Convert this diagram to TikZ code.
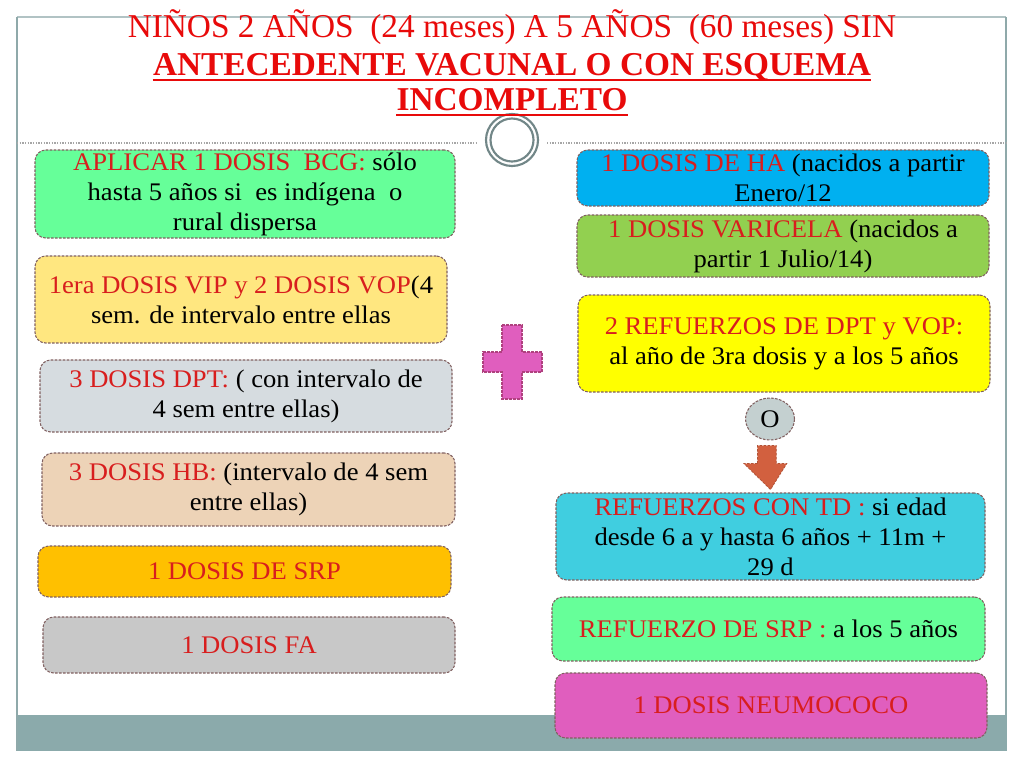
\documentclass[tikz,border=0pt]{standalone}
\usepackage{fontspec}
\setmainfont{Liberation Serif}[FakeStretch=1.05]
\newfontfamily\titlefont{Liberation Serif}
\usetikzlibrary{calc,shapes.geometric}
\definecolor{rd}{HTML}{D81E1E}
\definecolor{trd}{HTML}{E80A0A}
\definecolor{bd}{HTML}{806060}
\definecolor{frm}{HTML}{8FA9AA}
\definecolor{teal}{HTML}{8BAAAB}
\definecolor{cgreen}{HTML}{66FF99}
\definecolor{cyel}{HTML}{FFE780}
\definecolor{cgrayb}{HTML}{D6DCE0}
\definecolor{cpeach}{HTML}{EDD3B7}
\definecolor{corange}{HTML}{FFC000}
\definecolor{cgray}{HTML}{C8C8C8}
\definecolor{cblue}{HTML}{00B0F0}
\definecolor{clime}{HTML}{92D050}
\definecolor{cyellow}{HTML}{FFFF00}
\definecolor{cO}{HTML}{C4D0D0}
\definecolor{carrow}{HTML}{D2603F}
\definecolor{ccyan}{HTML}{40CEE0}
\definecolor{cpink}{HTML}{E05EBE}
\definecolor{pinkbd}{HTML}{B0407F}
\newcommand{\bodyfont}{\fontsize{19pt}{22.5pt}\selectfont}
\newcommand{\rt}[1]{\textcolor{rd}{#1}}
\tikzset{
  vbox/.style 2 args={draw=bd, dash pattern=on 2pt off 1pt, line width=0.8pt,
    rounded corners=8pt, align=center, inner sep=0pt, font=\bodyfont,
    text=black, minimum width={#1*0.75pt}, minimum height={#2*0.75pt}},
  ttl/.style={inner sep=0pt, anchor=base, text=trd, font=\titlefont\fontsize{25pt}{30pt}\selectfont},
  ttlb/.style={ttl, font=\titlefont\bfseries\fontsize{25pt}{30pt}\selectfont},
}
\begin{document}
\begin{tikzpicture}[x=0.75pt,y=-0.75pt]
\useasboundingbox (0,0) rectangle (1024,768);
% frame
\fill[teal] (17,715) rectangle (1007,751);
\draw[frm!70, line width=0.8pt] (17,17) -- (1006,17);
\draw[frm, line width=1.5pt] (17,17) -- (17,751);
\draw[frm, line width=1.5pt] (1006,17) -- (1006,715);
\draw[gray!70, line width=0.8pt, dash pattern=on 1pt off 1pt] (17,143) -- (478,143);
\draw[gray!70, line width=0.8pt, dash pattern=on 1pt off 1pt] (547,143) -- (1006,143);
\node[circle, draw=frm!80!black, fill=white, line width=1.6pt, minimum size=52*0.75pt, inner sep=0pt] (c1) at (512,140) {};
\node[circle, draw=frm!80!black, line width=1.6pt, minimum size=43*0.75pt, inner sep=0pt] (c2) at (512,140) {};
% title
\node[ttl] (t1) at (512,37) {NIÑOS 2 AÑOS\ \ (24 meses) A 5 AÑOS\ \ (60 meses) SIN};
\node[ttlb] (t2) at (512,75) {ANTECEDENTE VACUNAL O CON ESQUEMA};
\node[ttlb] (t3) at (512,110) {INCOMPLETO};
\draw[trd, line width=1.6pt] ([yshift=-3.5pt]t2.base west) -- ([yshift=-3.5pt]t2.base east);
\draw[trd, line width=1.6pt] ([yshift=-3.5pt]t3.base west) -- ([yshift=-3.5pt]t3.base east);
% left column
\node[vbox={420}{88}, fill=cgreen] (l1) at (245,194) {\rt{APLICAR 1 DOSIS\ \ BCG:} sólo\\hasta 5 años si\ \ es indígena\ \ o\\rural dispersa};
\node[vbox={412}{87}, fill=cyel] (l2) at (241,299.5) {\rt{1era DOSIS VIP y 2 DOSIS VOP}(4\\sem. de intervalo entre ellas};
\node[vbox={412}{72}, fill=cgrayb] (l3) at (246,396) {\rt{3 DOSIS DPT:} ( con intervalo de\\4 sem entre ellas)};
\node[vbox={413}{73}, fill=cpeach] (l4) at (248.5,489.5) {\rt{3 DOSIS HB:} (intervalo de 4 sem\\entre ellas)};
\node[vbox={413}{51}, fill=corange] (l5) at (244.5,571.5) {\rt{1 DOSIS DE SRP}};
\node[vbox={412}{56}, fill=cgray] (l6) at (249,645) {\rt{1 DOSIS FA}};
% plus
\draw[draw=pinkbd, fill=cpink, line width=0.8pt, dash pattern=on 2pt off 1pt]
  (502,325) -- (522,325) -- (522,352) -- (542,352) -- (542,372) -- (522,372) -- (522,399)
  -- (502,399) -- (502,372) -- (483,372) -- (483,352) -- (502,352) -- cycle;
% right column
\node[vbox={412}{56}, fill=cblue] (r1) at (783,178) {\rt{1 DOSIS DE HA} (nacidos a partir\\Enero/12};
\node[vbox={412}{62}, fill=clime] (r2) at (783,246) {\rt{1 DOSIS VARICELA} (nacidos a\\partir 1 Julio/14)};
\node[vbox={412}{97}, fill=cyellow] (r3) at (784,343.5) {\rt{2 REFUERZOS DE DPT y VOP:}\\al año de 3ra dosis y a los 5 años};
\node[ellipse, draw=bd, dash pattern=on 2pt off 1pt, line width=0.8pt, fill=cO, minimum width=49*0.75pt, minimum height=42*0.75pt, inner sep=0pt, font=\bodyfont] (o) at (770,419) {O};
\node[vbox={429}{87}, fill=ccyan] (r5) at (770.5,536.5) {\rt{REFUERZOS CON TD :} si edad\\desde 6 a y hasta 6 años + 11m +\\29 d};
\node[vbox={433}{64}, fill=cgreen] (r6) at (768.5,629) {\rt{REFUERZO DE SRP :} a los 5 años};
\node[vbox={432}{65}, fill=cpink] (r7) at (771,705.5) {\rt{1 DOSIS NEUMOCOCO}};
% block arrow from O to TD box
\draw[draw=carrow!85!black, fill=carrow, line width=0.6pt, dash pattern=on 2pt off 1pt]
  ($(o.south)+(-12.5,23)$) -- ++(0,-24*0.75) -- ++(25*0.75,0) -- ++(0,24*0.75) -- ++(14*0.75,0)
  -- ($(r5.north)+(0,-3)$) -- ($(o.south)+(-26,23)$) -- cycle;
\end{tikzpicture}
\end{document}
